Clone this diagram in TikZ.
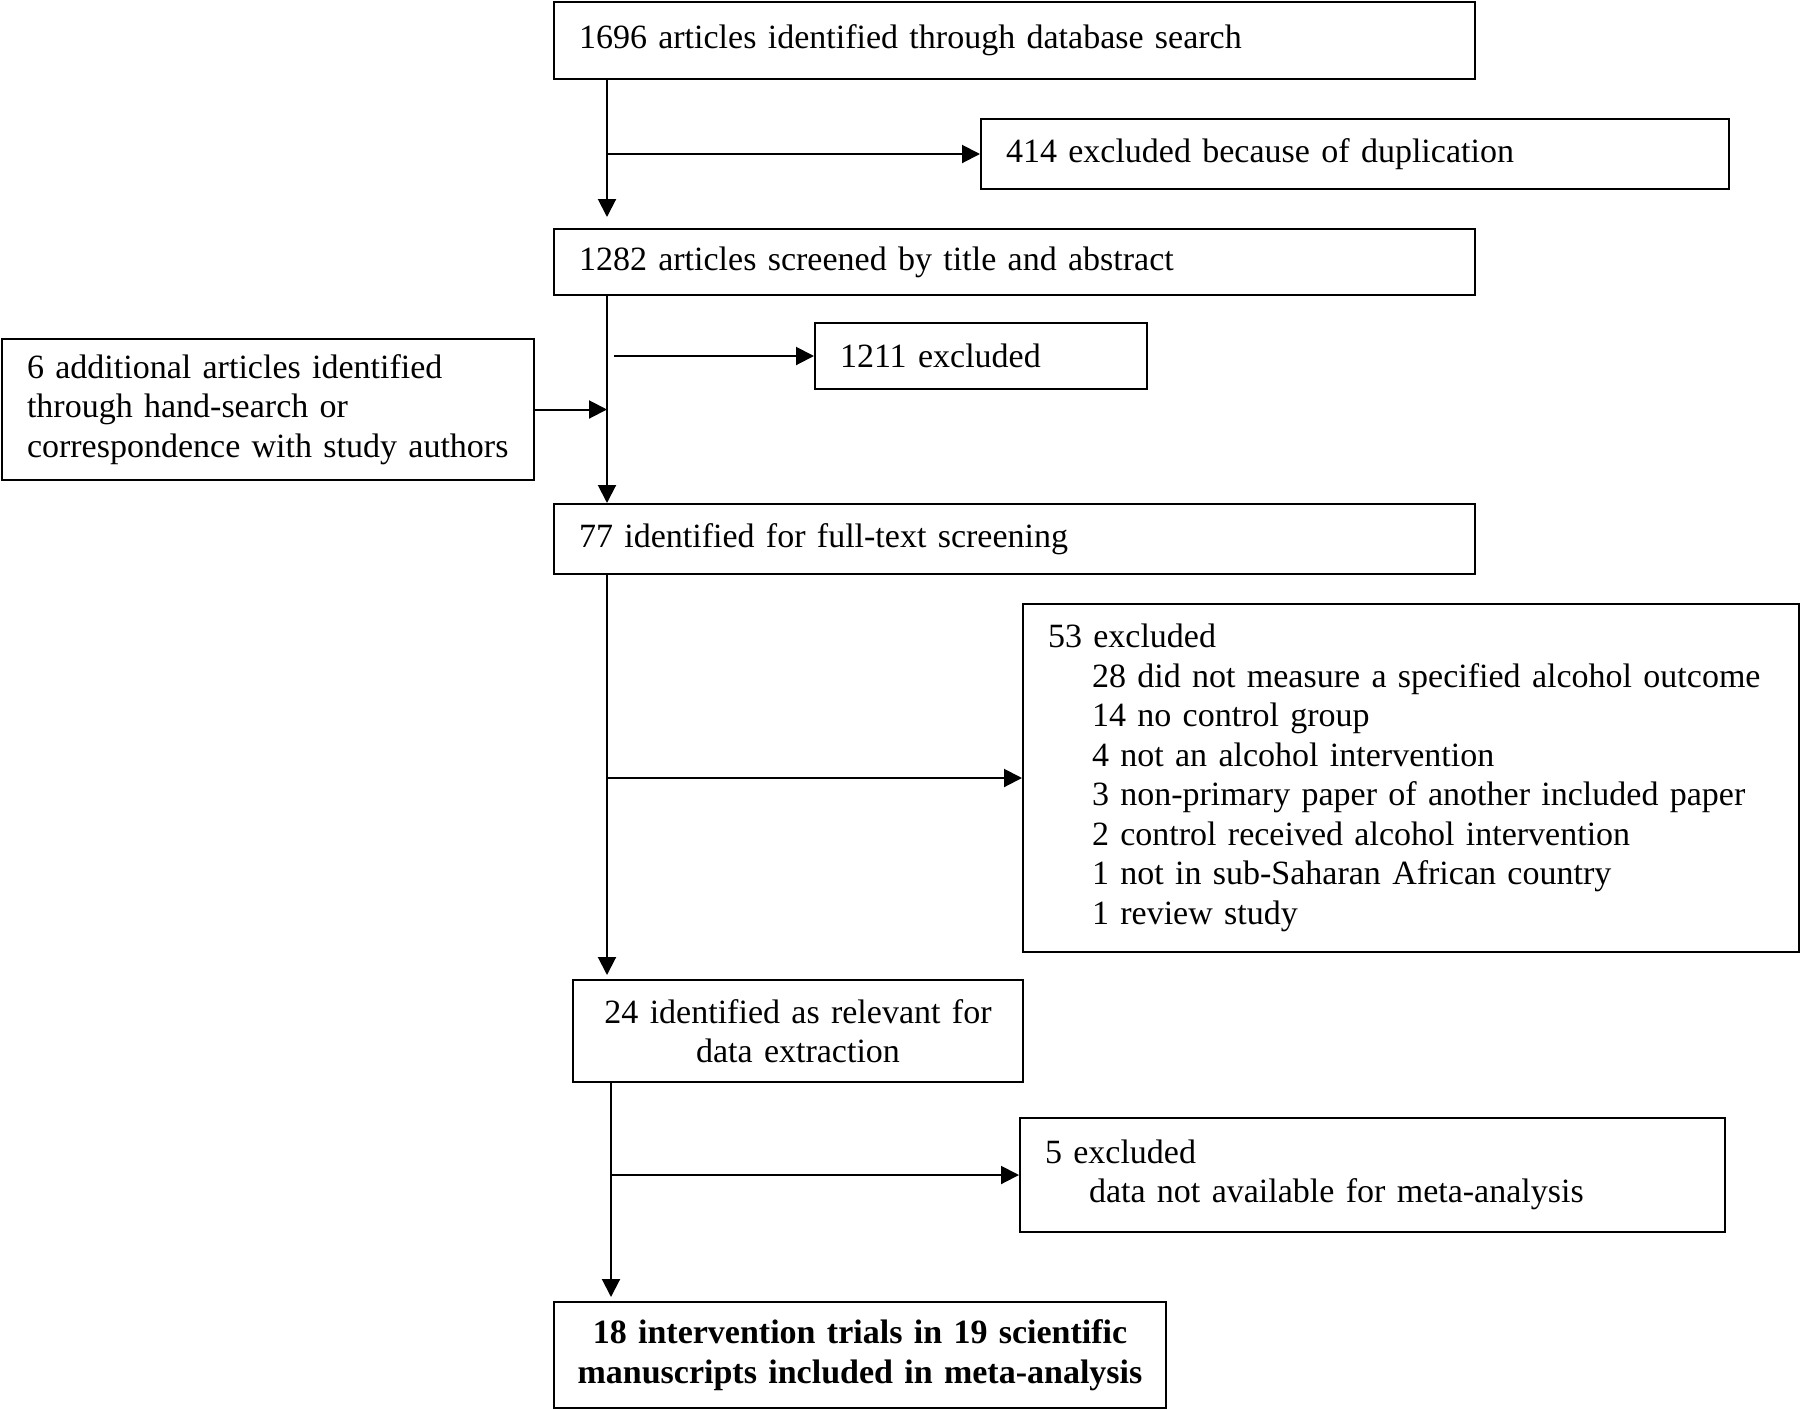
\documentclass[tikz,border=0pt]{standalone}
\usepackage{fontspec}
\setmainfont{Liberation Serif}
\usepackage{tikz}
\usetikzlibrary{arrows.meta}
\newcommand{\exind}{\hspace*{22pt}}

\begin{document}
\begin{tikzpicture}[x=0.5pt,y=-0.5pt,
  box/.style={draw, line width=1pt, anchor=north west, inner xsep=12.5pt, inner ysep=0pt,
    align=left, font=\fontsize{17}{19.75}\selectfont},
  arr/.style={line width=1pt, -{Triangle[length=9pt,width=9pt]}}]
\useasboundingbox (0,0) rectangle (1800,1409);
\coordinate (sp) at (607,0);
\coordinate (sp2) at (611,0);
\node[box, minimum width=460.5pt, minimum height=38.5pt, text width=435.5pt] (top) at (553,1)
  {1696 articles identified through database search};
\node[box, minimum width=374pt, minimum height=35pt, text width=349pt] (dup) at (980,118)
  {414 excluded because of duplication};
\node[box, minimum width=460.5pt, minimum height=33pt, text width=435.5pt] (screen) at (553,228)
  {1282 articles screened by title and abstract};
\node[box, minimum width=166pt, minimum height=33pt, text width=141pt] (excl1) at (814,322)
  {1211 excluded};
\node[box, minimum width=266pt, minimum height=70.5pt, text width=241pt] (hand) at (1,338)
  {6 additional articles identified\\through hand-search or\\correspondence with study authors};
\node[box, minimum width=460.5pt, minimum height=35pt, text width=435.5pt] (full) at (553,503)
  {77 identified for full-text screening};
\node[box, minimum width=388pt, minimum height=174pt, text width=363pt] (excl2) at (1022,603)
  {53 excluded\\
   \exind 28 did not measure a specified alcohol outcome\\
   \exind 14 no control group\\
   \exind 4 not an alcohol intervention\\
   \exind 3 non-primary paper of another included paper\\
   \exind 2 control received alcohol intervention\\
   \exind 1 not in sub-Saharan African country\\
   \exind 1 review study};
\node[box, align=center, minimum width=225pt, minimum height=51pt, text width=200pt] (rel) at (572,979)
  {24 identified as relevant for\\data extraction};
\node[box, minimum width=352.5pt, minimum height=57pt, text width=327.5pt] (excl3) at (1019,1117)
  {5 excluded\\\exind data not available for meta-analysis};
\node[box, align=center, inner xsep=8pt, minimum width=306pt, minimum height=53pt, text width=290pt] (incl) at (553,1301)
  {\bfseries 18 intervention trials in 19 scientific\\manuscripts included in meta-analysis};
\draw[arr] (top.south -| sp) -- ([yshift=5.5pt]screen.north -| sp);
\draw[arr] (dup.west -| sp) -- (dup.west);
\draw[arr] (screen.south -| sp) -- (full.north -| sp);
\draw[arr] ([xshift=3.5pt]excl1.west -| sp) -- (excl1.west);
\draw[arr] (hand.east) -- (hand.east -| sp);
\draw[arr] (full.south -| sp) -- ([yshift=2pt]rel.north -| sp);
\draw[arr] (excl2.west -| sp) -- (excl2.west);
\draw[arr] (rel.south -| sp2) -- ([yshift=2pt]incl.north -| sp2);
\draw[arr] (excl3.west -| sp2) -- (excl3.west);
\end{tikzpicture}
\end{document}
